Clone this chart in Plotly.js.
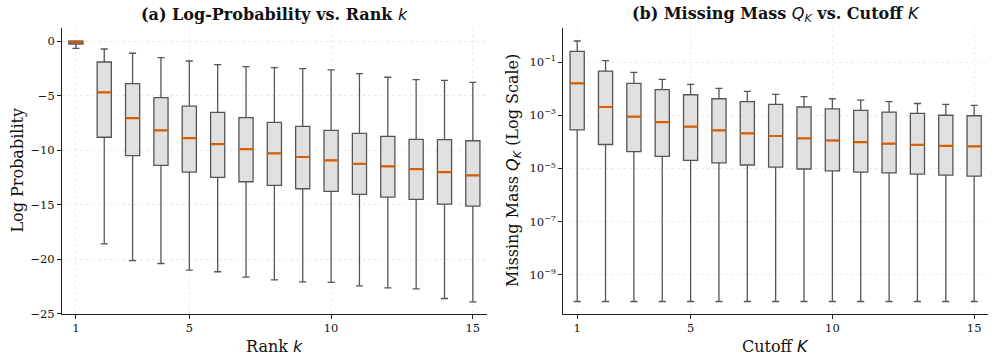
<!DOCTYPE html>
<html>
<head>
<meta charset="utf-8">
<script src="https://cdn.plot.ly/plotly-3.0.1.min.js"></script>
<style>html,body{margin:0;padding:0;background:#fff;}#chart{width:997px;height:363px;}</style>
</head>
<body>
<div id="chart"></div>
<script>
// ---- Data ----
const ranks = [1,2,3,4,5,6,7,8,9,10,11,12,13,14,15];

// (a) Log-probability vs rank k
const lpUpper  = [0.0,-0.71,-1.10,-1.50,-1.81,-2.14,-2.33,-2.42,-2.51,-2.63,-2.97,-3.30,-3.52,-3.58,-3.76];
const lpQ3     = [0.0,-1.90,-3.89,-5.17,-5.94,-6.51,-7.00,-7.43,-7.80,-8.17,-8.44,-8.72,-8.99,-9.02,-9.12];
const lpMedian = [-0.02,-4.68,-7.04,-8.17,-8.87,-9.42,-9.88,-10.28,-10.61,-10.92,-11.23,-11.47,-11.72,-11.99,-12.30];
const lpQ1     = [-0.25,-8.80,-10.49,-11.38,-11.99,-12.48,-12.88,-13.21,-13.52,-13.76,-14.04,-14.28,-14.50,-14.93,-15.11];
const lpLower  = [-0.65,-18.57,-20.10,-20.37,-20.98,-21.13,-21.62,-21.87,-22.05,-22.11,-22.42,-22.60,-22.70,-23.58,-23.89];

// (b) Missing mass Q_K vs cutoff K (log10 values)
const mmUpperLog  = [-0.21,-0.95,-1.39,-1.65,-1.84,-1.99,-2.10,-2.22,-2.30,-2.38,-2.43,-2.49,-2.56,-2.59,-2.63];
const mmQ3Log     = [-0.60,-1.34,-1.80,-2.04,-2.23,-2.38,-2.49,-2.59,-2.69,-2.76,-2.82,-2.88,-2.93,-3.00,-3.02];
const mmMedianLog = [-1.80,-2.69,-3.05,-3.26,-3.43,-3.57,-3.68,-3.78,-3.87,-3.95,-4.01,-4.07,-4.11,-4.15,-4.17];
const mmQ1Log     = [-3.55,-4.10,-4.37,-4.55,-4.70,-4.79,-4.87,-4.95,-5.02,-5.09,-5.14,-5.17,-5.21,-5.25,-5.29];
const mmLowerLog  = [-10,-10,-10,-10,-10,-10,-10,-10,-10,-10,-10,-10,-10,-10,-10];

const xTicks = [1,5,10,15];
const lpTicks = [0,-5,-10,-15,-20,-25];
const mmTickExp = [-1,-3,-5,-7,-9];

// ---- Styling ----
const BOX_FILL = '#e0e0e0';
const BOX_LINE = '#555555';
const MED = '#d95f02';
const SERIF = 'DejaVu Serif, serif';
const BOXW = 0.5;

const pw = v => Math.pow(10, v);

function medianSegments(xs, meds) {
  const x = [], y = [];
  xs.forEach((xi, i) => { x.push(xi - BOXW/2, xi + BOXW/2, null); y.push(meds[i], meds[i], null); });
  return {x, y};
}

const boxA = {
  type: 'box', x: ranks, q1: lpQ1, median: lpMedian, q3: lpQ3,
  lowerfence: lpLower, upperfence: lpUpper,
  width: BOXW, whiskerwidth: 0.5, boxpoints: false,
  fillcolor: BOX_FILL, line: {color: BOX_LINE, width: 1.3},
  xaxis: 'x', yaxis: 'y', showlegend: false, hoverinfo: 'skip'
};
const mA = medianSegments(ranks, lpMedian);
const medA = {type: 'scatter', mode: 'lines', x: mA.x, y: mA.y, line: {color: MED, width: 2.2},
  xaxis: 'x', yaxis: 'y', showlegend: false, hoverinfo: 'skip'};

const boxB = {
  type: 'box', x: ranks, q1: mmQ1Log.map(pw), median: mmMedianLog.map(pw), q3: mmQ3Log.map(pw),
  lowerfence: mmLowerLog.map(pw), upperfence: mmUpperLog.map(pw),
  width: BOXW, whiskerwidth: 0.5, boxpoints: false,
  fillcolor: BOX_FILL, line: {color: BOX_LINE, width: 1.3},
  xaxis: 'x2', yaxis: 'y2', showlegend: false, hoverinfo: 'skip'
};
const mB = medianSegments(ranks, mmMedianLog.map(pw));
const medB = {type: 'scatter', mode: 'lines', x: mB.x, y: mB.y, line: {color: MED, width: 2.2},
  xaxis: 'x2', yaxis: 'y2', showlegend: false, hoverinfo: 'skip'};

const axisCommon = {
  showline: true, linecolor: '#222', linewidth: 1.2, mirror: false,
  ticks: 'outside', ticklen: 3.5, tickwidth: 1, tickcolor: '#222',
  showgrid: true, gridcolor: '#e6e6e6', gridwidth: 0.8, griddash: 'dot',
  zeroline: false, tickfont: {family: SERIF, size: 11.5, color: '#111'}
};

const yA = [0.135, 0.923];
const layout = {
  width: 997, height: 363,
  margin: {l: 0, r: 0, t: 0, b: 0},
  paper_bgcolor: '#fff', plot_bgcolor: '#fff',
  showlegend: false, hovermode: false,
  xaxis: Object.assign({}, axisCommon, {domain: [0.0619, 0.4885], range: [0.5, 15.5],
    tickmode: 'array', tickvals: xTicks, ticktext: xTicks.map(String), anchor: 'y'}),
  yaxis: Object.assign({}, axisCommon, {domain: yA, range: [-25, 1.22],
    tickmode: 'array', tickvals: lpTicks, ticktext: lpTicks.map(v => v < 0 ? '\u2212' + Math.abs(v) : String(v)), anchor: 'x'}),
  xaxis2: Object.assign({}, axisCommon, {domain: [0.5647, 0.9913], range: [0.5, 15.5],
    tickmode: 'array', tickvals: xTicks, ticktext: xTicks.map(String), anchor: 'y2'}),
  yaxis2: Object.assign({}, axisCommon, {domain: yA, type: 'log', range: [-10.47, 0.28],
    tickmode: 'array', tickvals: mmTickExp.map(pw),
    ticktext: mmTickExp.map(e => '10<sup>\u2212' + Math.abs(e) + '</sup>'), anchor: 'x2'}),
  annotations: [
    {xref: 'paper', yref: 'paper', x: 0.2752, y: 1 - 15/363, xanchor: 'center', yanchor: 'middle', showarrow: false,
     text: '<b>(a) Log-Probability vs. Rank </b><span style="font-family:DejaVu Sans"><i>k</i></span>',
     font: {family: SERIF, size: 16, color: '#111'}},
    {xref: 'paper', yref: 'paper', x: 0.778, y: 1 - 15/363, xanchor: 'center', yanchor: 'middle', showarrow: false,
     text: '<b>(b) Missing Mass </b><span style="font-family:DejaVu Sans"><i>Q<sub>K</sub></i></span><b> vs. Cutoff </b><span style="font-family:DejaVu Sans"><i>K</i></span>',
     font: {family: SERIF, size: 16, color: '#111'}},
    {xref: 'paper', yref: 'paper', x: 0.2752, y: 1 - 346/363, xanchor: 'center', yanchor: 'middle', showarrow: false,
     text: 'Rank <span style="font-family:DejaVu Sans"><i>k</i></span>',
     font: {family: SERIF, size: 16, color: '#111'}},
    {xref: 'paper', yref: 'paper', x: 0.778, y: 1 - 346/363, xanchor: 'center', yanchor: 'middle', showarrow: false,
     text: 'Cutoff <span style="font-family:DejaVu Sans"><i>K</i></span>',
     font: {family: SERIF, size: 16, color: '#111'}},
    {xref: 'paper', yref: 'paper', x: 16.5/997, y: 1 - 171/363, xanchor: 'center', yanchor: 'middle', showarrow: false,
     textangle: -90, text: 'Log Probability',
     font: {family: SERIF, size: 16, color: '#111'}},
    {xref: 'paper', yref: 'paper', x: 513/997, y: 1 - 171/363, xanchor: 'center', yanchor: 'middle', showarrow: false,
     textangle: -90, text: 'Missing Mass <span style="font-family:DejaVu Sans"><i>Q<sub>K</sub></i></span> (Log Scale)',
     font: {family: SERIF, size: 16, color: '#111'}}
  ]
};

Plotly.newPlot('chart', [boxA, medA, boxB, medB], layout, {staticPlot: true, displayModeBar: false});
</script>
</body>
</html>
